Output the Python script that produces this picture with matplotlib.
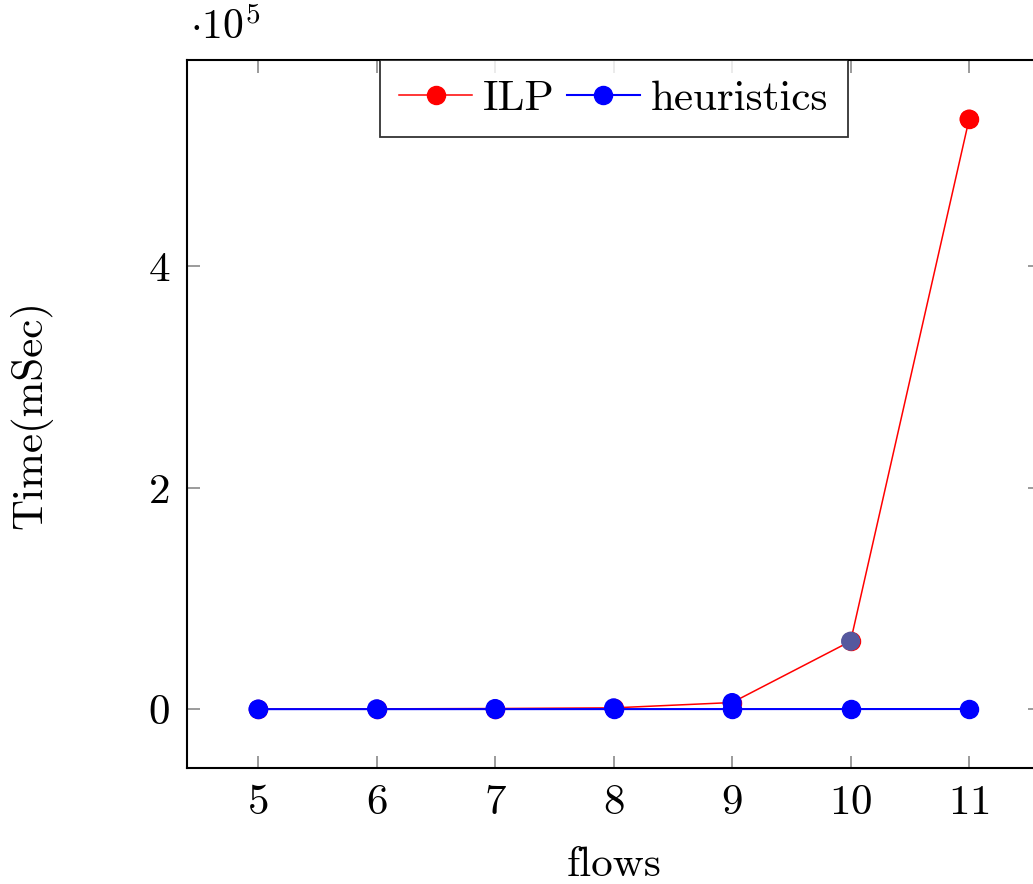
import matplotlib
matplotlib.use("Agg")
import matplotlib.pyplot as plt
from matplotlib.ticker import FuncFormatter

plt.rcParams['font.family'] = 'serif'
plt.rcParams['font.serif'] = ['cmr10']
plt.rcParams['mathtext.fontset'] = 'cm'
plt.rcParams['axes.unicode_minus'] = False
plt.rcParams['axes.formatter.use_mathtext'] = True

# data (time in mSec)
flows = [5, 6, 7, 8, 9, 10, 11]
ilp_time = [100, 300, 600, 1200, 6000, 61400, 533000]
heuristics_time = [40, 50, 60, 80, 100, 120, 150]
ilp_marker_colors = ['blue', 'blue', 'blue', 'blue', 'blue', '#55589e', 'red']

fig = plt.figure(figsize=(10.33, 8.84), dpi=100)
ax = fig.add_axes([0.181, 0.131, 0.826, 0.801])

ax.plot(flows, ilp_time, color='red', linewidth=1.1, label='ILP',
        marker='o', markersize=13, markerfacecolor='red', markeredgecolor='red')
ax.scatter(flows, ilp_time, s=190, c=ilp_marker_colors, zorder=3, linewidths=0)
ax.plot(flows, heuristics_time, color='blue', linewidth=1.5, label='heuristics',
        marker='o', markersize=13, markerfacecolor='blue', markeredgecolor='blue', zorder=4)

ax.set_xlim(4.4, 11.6)
ax.set_ylim(-53300, 586300)
ax.set_xticks(flows)
ax.set_yticks([0, 200000, 400000])
ax.yaxis.set_major_formatter(FuncFormatter(lambda v, p: f"{v / 1e5:.0f}"))

ax.tick_params(direction='in', length=9, width=1.1, color='#808080',
               top=True, right=True, labelsize=31, pad=12)
for s in ax.spines.values():
    s.set_linewidth(1.5)

ax.text(0.003, 1.018, r'$\cdot 10^5$', transform=ax.transAxes, fontsize=30,
        ha='left', va='bottom')

ax.set_xlabel('flows', fontsize=31)
ax.set_ylabel('Time(mSec)', fontsize=31)
ax.xaxis.set_label_coords(0.5, -0.11)
ax.yaxis.set_label_coords(-0.158, 0.5)

leg = ax.legend(loc='upper center', bbox_to_anchor=(0.5, 1.0), ncol=2,
                fontsize=31, frameon=True, fancybox=False, edgecolor='black',
                handlelength=1.7, handletextpad=0.25, columnspacing=0.28,
                borderpad=0.45, borderaxespad=0.0)
leg.get_frame().set_linewidth(1.3)

fig.savefig('out.png', dpi=100)
